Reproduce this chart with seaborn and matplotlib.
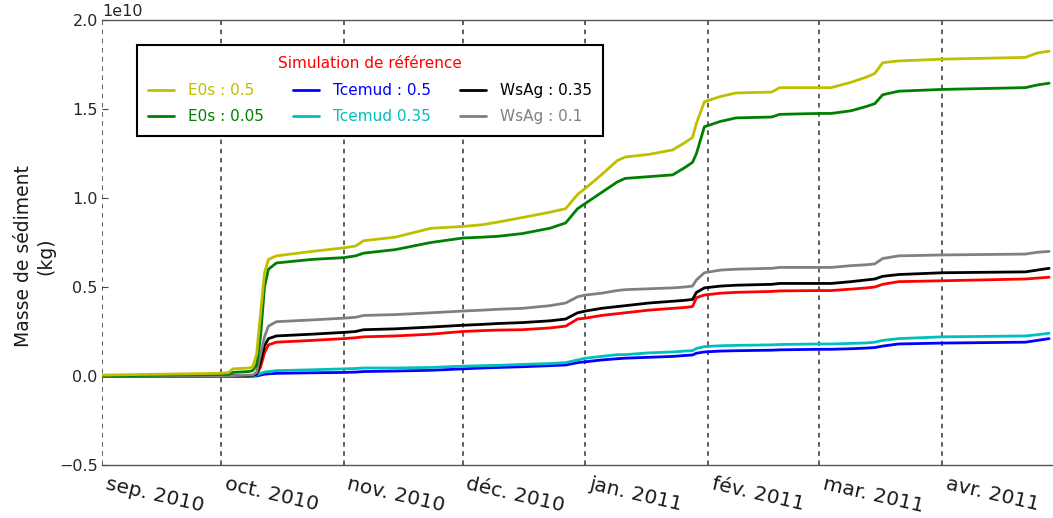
import numpy as np
import pandas as pd
import matplotlib
matplotlib.use("Agg")
import matplotlib.pyplot as plt
import matplotlib.dates as mdates
import matplotlib.transforms as mtransforms
from matplotlib.lines import Line2D
import seaborn as sns

# Cumulative sediment mass, in units of 1e10 kg
dates = [
    "2010-09-01", "2010-09-15", "2010-10-01", "2010-10-03", "2010-10-04",
    "2010-10-08", "2010-10-09", "2010-10-10", "2010-10-11", "2010-10-12",
    "2010-10-13", "2010-10-15", "2010-10-24", "2010-11-01", "2010-11-04",
    "2010-11-06", "2010-11-14", "2010-11-23", "2010-12-01", "2010-12-06",
    "2010-12-10", "2010-12-16", "2010-12-23", "2010-12-27", "2010-12-30",
    "2011-01-01", "2011-01-05", "2011-01-09", "2011-01-11", "2011-01-17",
    "2011-01-23", "2011-01-26", "2011-01-28", "2011-01-29", "2011-01-31",
    "2011-02-04", "2011-02-08", "2011-02-17", "2011-02-19", "2011-03-01",
    "2011-03-04", "2011-03-09", "2011-03-13", "2011-03-15", "2011-03-17",
    "2011-03-21", "2011-04-01", "2011-04-22", "2011-04-25", "2011-04-28",
]

e0s_05 = [0.005, 0.01, 0.015, 0.02, 0.04, 0.045, 0.05, 0.12, 0.35, 0.58,
          0.655, 0.675, 0.70, 0.72, 0.73, 0.76, 0.78, 0.83, 0.84, 0.85,
          0.865, 0.89, 0.92, 0.94, 1.02, 1.055, 1.13, 1.21, 1.23, 1.245,
          1.27, 1.31, 1.34, 1.42, 1.54, 1.57, 1.59, 1.595, 1.62, 1.62,
          1.62, 1.65, 1.68, 1.70, 1.76, 1.77, 1.78, 1.79, 1.815, 1.825]

e0s_005 = [0.0, 0.005, 0.008, 0.01, 0.02, 0.025, 0.03, 0.06, 0.22, 0.50,
           0.60, 0.635, 0.655, 0.665, 0.675, 0.69, 0.71, 0.75, 0.775, 0.78,
           0.785, 0.80, 0.83, 0.86, 0.94, 0.97, 1.03, 1.09, 1.11, 1.12,
           1.13, 1.17, 1.20, 1.25, 1.40, 1.43, 1.45, 1.455, 1.47, 1.475,
           1.475, 1.49, 1.515, 1.53, 1.58, 1.60, 1.61, 1.62, 1.635, 1.645]

tcemud_05 = [0.0, 0.0, 0.0, 0.0, 0.0, 0.0, 0.0, 0.0, 0.005, 0.01,
             0.012, 0.015, 0.018, 0.02, 0.022, 0.025, 0.028, 0.032, 0.04, 0.045,
             0.048, 0.052, 0.058, 0.062, 0.075, 0.08, 0.09, 0.097, 0.10, 0.105,
             0.11, 0.115, 0.118, 0.128, 0.135, 0.14, 0.142, 0.145, 0.147, 0.15,
             0.15, 0.153, 0.157, 0.16, 0.168, 0.18, 0.185, 0.19, 0.20, 0.21]

tcemud_035 = [0.0, 0.0, 0.0, 0.0, 0.0, 0.0, 0.0, 0.005, 0.015, 0.022,
              0.025, 0.03, 0.035, 0.04, 0.042, 0.045, 0.045, 0.048, 0.055, 0.058,
              0.06, 0.065, 0.07, 0.075, 0.09, 0.10, 0.11, 0.12, 0.12, 0.13,
              0.135, 0.14, 0.142, 0.155, 0.165, 0.17, 0.172, 0.175, 0.177, 0.18,
              0.18, 0.183, 0.186, 0.19, 0.20, 0.21, 0.22, 0.225, 0.232, 0.24]

wsag_035 = [0.0, 0.0, 0.0, 0.0, 0.0, 0.0, 0.003, 0.01, 0.08, 0.17,
            0.21, 0.225, 0.235, 0.245, 0.25, 0.26, 0.265, 0.275, 0.285, 0.29,
            0.295, 0.30, 0.31, 0.32, 0.355, 0.365, 0.38, 0.39, 0.395, 0.41,
            0.42, 0.425, 0.43, 0.47, 0.495, 0.505, 0.51, 0.515, 0.52, 0.52,
            0.52, 0.53, 0.54, 0.545, 0.56, 0.57, 0.58, 0.585, 0.595, 0.605]

wsag_01 = [0.0, 0.0, 0.0, 0.0, 0.002, 0.005, 0.005, 0.02, 0.12, 0.22,
           0.28, 0.305, 0.315, 0.325, 0.33, 0.34, 0.345, 0.355, 0.365, 0.37,
           0.375, 0.38, 0.395, 0.41, 0.445, 0.455, 0.465, 0.48, 0.485, 0.49,
           0.495, 0.50, 0.505, 0.54, 0.58, 0.595, 0.60, 0.605, 0.61, 0.61,
           0.61, 0.62, 0.625, 0.63, 0.66, 0.675, 0.68, 0.685, 0.695, 0.70]

reference = [0.0, 0.0, 0.0, 0.0, 0.0, 0.0, 0.0, 0.005, 0.05, 0.13,
             0.175, 0.19, 0.20, 0.21, 0.215, 0.22, 0.225, 0.235, 0.25, 0.255,
             0.258, 0.26, 0.27, 0.28, 0.32, 0.325, 0.34, 0.35, 0.355, 0.37,
             0.38, 0.385, 0.39, 0.44, 0.455, 0.465, 0.47, 0.475, 0.478, 0.48,
             0.48, 0.488, 0.495, 0.50, 0.515, 0.53, 0.535, 0.545, 0.55, 0.555]

month_ticks = ["2010-09-01", "2010-10-01", "2010-11-01", "2010-12-01",
               "2011-01-01", "2011-02-01", "2011-03-01", "2011-04-01"]
month_labels = ["sep. 2010", "oct. 2010", "nov. 2010", "déc. 2010",
                "jan. 2011", "fév. 2011", "mar. 2011", "avr. 2011"]

legend_labels = ["E0s : 0.5", "E0s : 0.05", "Tcemud : 0.5", "Tcemud 0.35",
                 "WsAg : 0.35", "WsAg : 0.1"]
legend_colors = ["#bfbf00", "#008000", "#0000ff", "#00bfbf", "#000000", "#808080"]

sns.set_style("white")
plt.rcParams["font.family"] = ["DejaVu Sans"]

runs = [
    ("Référence", reference, "#ff0000"),
    ("Tcemud : 0.5", tcemud_05, "#0000ff"),
    ("Tcemud 0.35", tcemud_035, "#00bfbf"),
    ("WsAg : 0.35", wsag_035, "#000000"),
    ("WsAg : 0.1", wsag_01, "#808080"),
    ("E0s : 0.05", e0s_005, "#008000"),
    ("E0s : 0.5", e0s_05, "#bfbf00"),
]

frames = []
for name, vals, _ in runs:
    frames.append(pd.DataFrame({
        "date": pd.to_datetime(dates),
        "masse": np.asarray(vals) * 1e10,
        "serie": name,
    }))
df = pd.concat(frames, ignore_index=True)

fig = plt.figure(figsize=(10.53, 5.18), dpi=100)
fig.patch.set_facecolor("white")
ax = fig.add_axes([102 / 1053, 53 / 518, 963 / 1053, 445 / 518])

sns.lineplot(
    data=df, x="date", y="masse", hue="serie",
    hue_order=[r[0] for r in runs],
    palette={r[0]: r[2] for r in runs},
    linewidth=2.0, estimator=None, errorbar=None, legend=False, ax=ax,
)

tick_dates = mdates.date2num(pd.to_datetime(month_ticks))
ax.set_xlim(mdates.date2num(pd.Timestamp("2010-09-01")),
            mdates.date2num(pd.Timestamp("2011-05-02")))
ax.set_ylim(-0.5e10, 2.0e10)
ax.set_yticks(np.arange(-0.5, 2.01, 0.5) * 1e10)

ax.set_xticks(tick_dates)
ax.set_xticklabels(month_labels, rotation=-13, ha="left", va="top",
                   rotation_mode="anchor", fontsize=14.5, color="#1a1a1a")
ax.tick_params(axis="x", length=0, pad=7)
shift = mtransforms.ScaledTranslation(6 / 100, 0, fig.dpi_scale_trans)
for lab in ax.get_xticklabels():
    lab.set_transform(lab.get_transform() + shift)

ax.tick_params(axis="y", left=True, direction="in", length=4, width=0.8,
               color="#444444", pad=3, labelsize=11.5, labelcolor="#262626")
ax.yaxis.get_offset_text().set_fontsize(11.5)
ax.yaxis.get_offset_text().set_color("#262626")

ax.grid(False)
for x in tick_dates:
    ax.axvline(x, color="#333333", linestyle=(0, (3, 3)), linewidth=1.1, zorder=0.5)

ax.spines["left"].set_visible(False)
for side in ("top", "bottom", "right"):
    ax.spines[side].set_color("#555555")
    ax.spines[side].set_linewidth(1.0)

ax.set_xlabel("")
ax.set_ylabel("Masse de sédiment\n(kg)", fontsize=13.5, color="#1a1a1a",
              linespacing=1.2)
ax.yaxis.set_label_coords(-47 / 963, 0.47)

handles = [Line2D([], [], color=c, linewidth=2) for c in legend_colors]
leg = ax.legend(
    handles, legend_labels, ncol=3, title="Simulation de référence",
    loc="upper left", bbox_to_anchor=(35 / 963, 420 / 445), borderaxespad=0,
    fontsize=11, title_fontsize=11, frameon=True, fancybox=False,
    edgecolor="black", framealpha=1, handlelength=1.7, handletextpad=0.9,
    columnspacing=1.9, labelspacing=0.75, borderpad=0.75,
)
leg.get_frame().set_linewidth(1.5)
leg.get_title().set_color("red")
for t, c in zip(leg.get_texts(), legend_colors):
    t.set_color(c)

fig.savefig("out.png", dpi=100, facecolor="white")
